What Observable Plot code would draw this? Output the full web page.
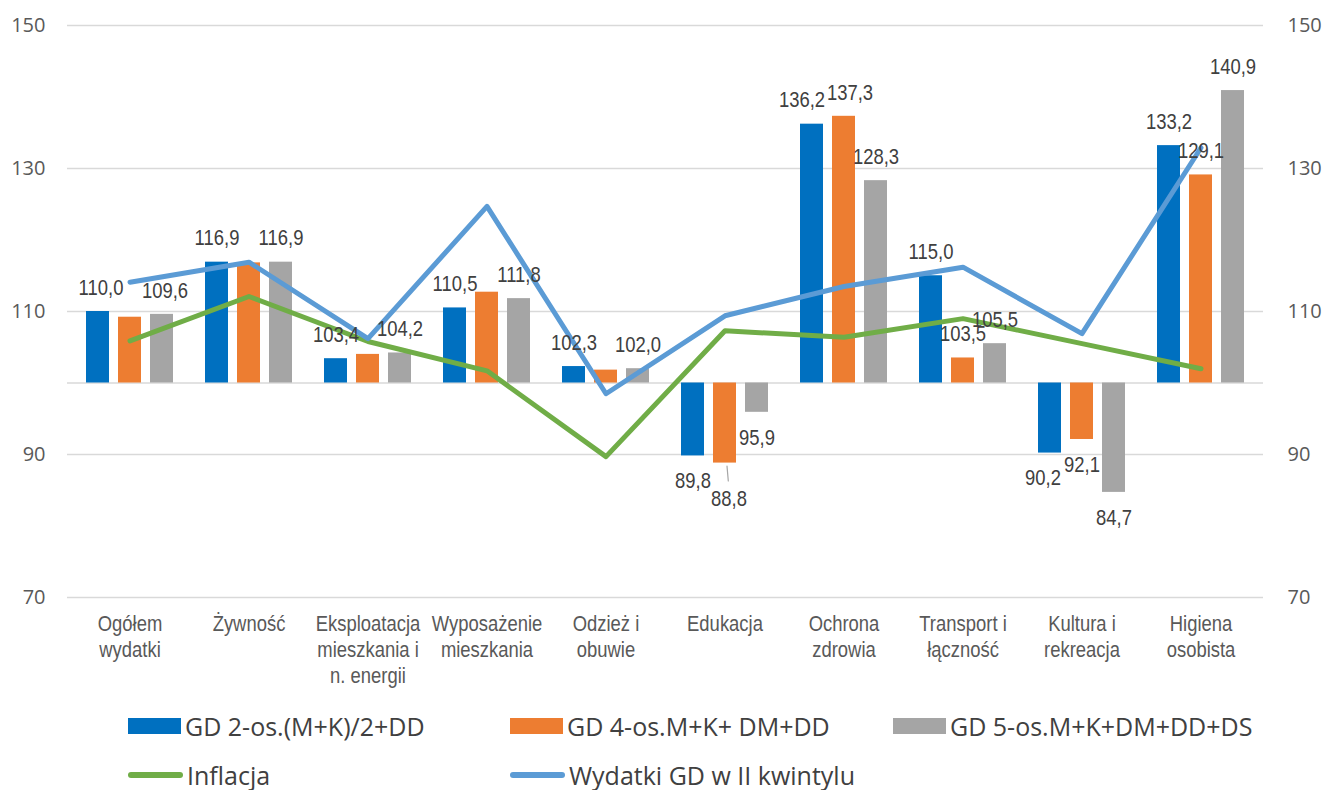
<!DOCTYPE html>
<html><head><meta charset="utf-8">
<script src="https://cdn.jsdelivr.net/npm/d3@7"></script>
<script src="https://cdn.jsdelivr.net/npm/@observablehq/plot@0.6"></script>
<style>
body{margin:0;background:#fff;overflow:hidden;}
#chart{width:1325px;height:697px;}
.legend{position:relative;width:1325px;height:93px;font-family:"Open Sans",sans-serif;font-size:25px;color:#404040;}
.item{position:absolute;display:flex;align-items:center;gap:4px;white-space:nowrap;height:28px;line-height:28px;}
.sw{width:53px;height:16px;display:inline-block;}
.ln{width:55px;height:6px;border-radius:3px;display:inline-block;}
</style></head><body>
<div id="chart"></div>
<div class="legend" id="legend"></div>
<script>
const categories = ["Ogółem wydatki","Żywność","Eksploatacja mieszkania i n. energii","Wyposażenie mieszkania","Odzież i obuwie","Edukacja","Ochrona zdrowia","Transport i łączność","Kultura i rekreacja","Higiena osobista"];
const tickLabels = ["Ogółem\nwydatki","Żywność","Eksploatacja\nmieszkania i\nn. energii","Wyposażenie\nmieszkania","Odzież i\nobuwie","Edukacja","Ochrona\nzdrowia","Transport i\nłączność","Kultura i\nrekreacja","Higiena\nosobista"];
const barSeries = ["GD 2-os.(M+K)/2+DD","GD 4-os.M+K+ DM+DD","GD 5-os.M+K+DM+DD+DS"];
const gd2 = [110.0,116.9,103.4,110.5,102.3,89.8,136.2,115.0,90.2,133.2];
const gd4 = [109.2,116.8,104.0,112.7,101.8,88.8,137.3,103.5,92.1,129.1];
const gd5 = [109.6,116.9,104.2,111.8,102.0,95.9,128.3,105.5,84.7,140.9];
const lineSeries = ["Inflacja","Wydatki GD w II kwintylu"];
const inflacja = [105.9,112.1,105.8,101.7,89.7,107.3,106.4,109.0,105.5,102.0];
const wydatkiII = [114.1,116.9,106.2,124.7,98.5,109.4,113.5,116.2,106.9,132.9];
const gd4Labeled = ["Edukacja","Ochrona zdrowia","Transport i łączność","Kultura i rekreacja","Higiena osobista"];
const yTicks = [70,90,110,130,150];
const baseline = 100;

const barColors = ["#0070c0","#ed7d31","#a5a5a5"];
const lineColors = ["#70ad47","#5b9bd5"];
const barDx = [-32,0,32];
// small horizontal nudges of crowded value labels (style only)
const labelNudge = {"Ochrona zdrowia|0": -10, "Ochrona zdrowia|1": 6, "Kultura i rekreacja|0": -7, "Ogółem wydatki|0": 3, "Ogółem wydatki|2": 3};
const narrow = '"Liberation Sans",Arial,sans-serif';
const fmt = v => v.toFixed(1).replace(".", ",");

const seriesVals = [gd2, gd4, gd5];
const bars = [];
seriesVals.forEach((arr, s) => arr.forEach((v, i) => bars.push({cat: categories[i], s, v,
  labeled: s !== 1 || gd4Labeled.includes(categories[i])})));
const lineRows = categories.map((c, i) => ({cat: c, infl: inflacja[i], wyd: wydatkiII[i]}));

const isSpecial = d => d.s === 1 && d.cat === "Edukacja";
const marks = [
  Plot.gridY(yTicks, {stroke: "#d9d9d9", strokeOpacity: 1, strokeWidth: 1.5}),
  Plot.ruleY([baseline], {stroke: "#d9d9d9", strokeWidth: 1.5})
];
[0,1,2].forEach(s => {
  marks.push(Plot.barY(bars.filter(d => d.s === s), {x: "cat", y1: baseline, y2: "v", fill: barColors[s], dx: barDx[s]}));
});
marks.push(Plot.lineY(lineRows, {x: "cat", y: "infl", stroke: lineColors[0], strokeWidth: 5, strokeLinejoin: "round", strokeLinecap: "round"}));
marks.push(Plot.lineY(lineRows, {x: "cat", y: "wyd", stroke: lineColors[1], strokeWidth: 5, strokeLinejoin: "round", strokeLinecap: "round"}));
[0,1,2].forEach(s => {
  const ds = bars.filter(d => d.s === s && d.labeled && !isSpecial(d));
  const nudges = [...new Set(ds.map(d => labelNudge[d.cat + "|" + s] || 0))];
  nudges.forEach(n => {
    const dn = ds.filter(d => (labelNudge[d.cat + "|" + s] || 0) === n);
    const common = {x: "cat", y: "v", text: d => fmt(d.v), dx: barDx[s] + n, fontFamily: narrow, fontSize: 22.5, fill: "#404040"};
    marks.push(Plot.text(dn.filter(d => d.v >= baseline), {...common, dy: -24}));
    marks.push(Plot.text(dn.filter(d => d.v < baseline), {...common, dy: 25}));
  });
});
const special = bars.filter(isSpecial);
marks.push(Plot.text(special, {x: "cat", y: "v", text: d => fmt(d.v), dx: barDx[1] + 4, dy: 36, fontFamily: narrow, fontSize: 22.5, fill: "#404040"}));
marks.push(Plot.vector(special, {x: "cat", y: "v", dx: barDx[1] + 2, dy: 3, length: 15, rotate: 175, anchor: "start", stroke: "#a6a6a6", strokeWidth: 1.2,
  shape: {draw(ctx, l) { ctx.moveTo(0, 0); ctx.lineTo(0, -l); }}}));
marks.push(Plot.axisY(yTicks, {anchor: "left", tickSize: 0, tickPadding: 22, fontSize: 20, fill: "#595959", label: null}));
marks.push(Plot.axisY(yTicks, {anchor: "right", tickSize: 0, tickPadding: 24, fontSize: 20, fill: "#595959", textAnchor: "start", label: null}));
marks.push(Plot.axisX({anchor: "bottom", tickSize: 0, tickPadding: 15, fontSize: 22.5, lineHeight: 1.16, fontFamily: narrow, fill: "#595959", label: null,
  tickFormat: d => tickLabels[categories.indexOf(d)]}));

const plot = Plot.plot({
  width: 1325, height: 697, marginLeft: 67, marginRight: 62, marginTop: 25, marginBottom: 100,
  style: {fontFamily: '"Open Sans",sans-serif', background: "#fff", overflow: "visible"},
  x: {type: "band", domain: categories, paddingInner: 0.808, paddingOuter: 0.404, axis: null, label: null},
  y: {domain: [70, 150], axis: null, label: null},
  marks
});
// condense the Arial-metric texts to an Arial-Narrow-like width, each around its own anchor
plot.querySelectorAll('g[font-family*="Liberation"] text').forEach(t => {
  const x = +t.getAttribute("x") || 0, y = +t.getAttribute("y") || 0;
  const tr = t.getAttribute("transform") || "";
  t.setAttribute("transform", `${tr} translate(${x},${y}) scale(0.82,1) translate(${-x},${-y})`);
});
document.getElementById("chart").appendChild(plot);

const legend = document.getElementById("legend");
const legendItems = [
  {label: barSeries[0], color: barColors[0], kind: "sw", left: 128, top: 15},
  {label: barSeries[1], color: barColors[1], kind: "sw", left: 510, top: 15},
  {label: barSeries[2], color: barColors[2], kind: "sw", left: 893, top: 15},
  {label: lineSeries[0], color: lineColors[0], kind: "ln", left: 128, top: 64},
  {label: lineSeries[1], color: lineColors[1], kind: "ln", left: 510, top: 64}
];
legendItems.forEach(it => {
  const d = document.createElement("div");
  d.className = "item";
  d.style.left = it.left + "px"; d.style.top = it.top + "px";
  const sw = document.createElement("span");
  sw.className = it.kind; sw.style.background = it.color;
  const t = document.createElement("span"); t.textContent = it.label;
  d.appendChild(sw); d.appendChild(t);
  legend.appendChild(d);
});
</script>
</body></html>
